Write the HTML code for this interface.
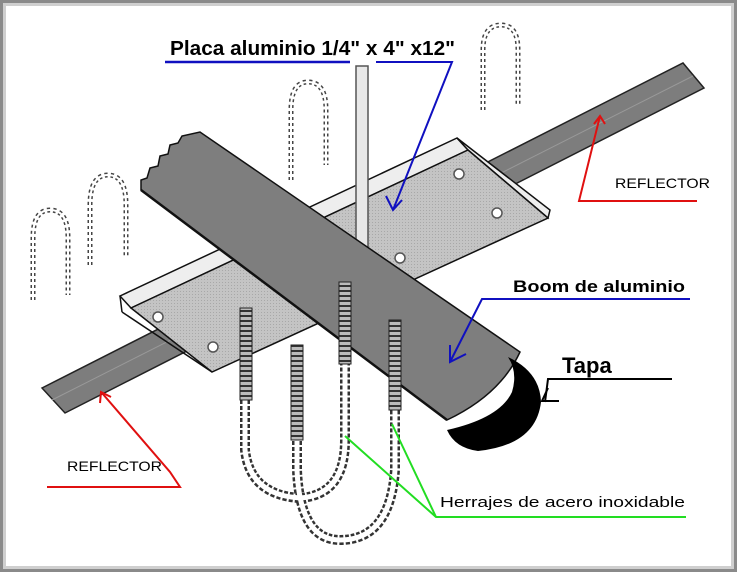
<!DOCTYPE html>
<html><head><style>
html,body{margin:0;padding:0;background:#fff}
svg{display:block}
text{font-family:"Liberation Sans",sans-serif}
</style></head><body>
<svg width="737" height="572" viewBox="0 0 737 572" xmlns="http://www.w3.org/2000/svg">
<rect x="0" y="0" width="737" height="572" fill="#8a8a8a"/>
<rect x="3" y="3" width="731" height="566" fill="#cfcfcf"/>
<rect x="6" y="6" width="725" height="560" fill="#fff"/>
<defs>
<pattern id="dots" width="3" height="3" patternUnits="userSpaceOnUse"><rect width="3" height="3" fill="#c4c4c4"/><rect width="1" height="1" fill="#a8a8a8"/></pattern>
<pattern id="thr" width="8" height="5" patternUnits="userSpaceOnUse"><rect width="8" height="5" fill="#bbb"/><rect width="8" height="2" fill="#333"/></pattern>
</defs>
<!-- reflector bar -->
<polygon points="42,388 683,63 704,88 65,413" fill="#7d7d7d" stroke="#222" stroke-width="1.5"/>
<line x1="52" y1="400" x2="693" y2="76" stroke="#999" stroke-width="1"/>
<!-- plate -->
<polygon points="120,296 457,138 468,150 131,308" fill="#eee" stroke="#111" stroke-width="1.5"/>
<polygon points="457,138 550,210 548,218 468,150" fill="#eee" stroke="#111" stroke-width="1.5"/>
<polygon points="131,308 468,150 548,218 212,372" fill="url(#dots)" stroke="#111" stroke-width="1.5"/>
<line x1="120" y1="296" x2="122" y2="312" stroke="#111" stroke-width="1.5"/>
<line x1="122" y1="312" x2="212" y2="372" stroke="#111" stroke-width="1.5"/>
<g fill="#fff" stroke="#555" stroke-width="1.5">
<circle cx="459" cy="174" r="5"/><circle cx="362" cy="222" r="5"/><circle cx="497" cy="213" r="5"/><circle cx="400" cy="258" r="5"/><circle cx="158" cy="317" r="5"/><circle cx="213" cy="347" r="5"/>
</g>
<!-- top vertical bolt -->
<rect x="356" y="66" width="12" height="190" fill="#e8e8e8" stroke="#555" stroke-width="1.5"/>
<!-- boom -->
<path d="M141,190 L141,180 L147,178 L150,168 L158,166 L160,156 L168,154 L170,145 L178,143 L182,136 L200,132 L520,352 Q500,395 447,420 Z" fill="#7e7e7e" stroke="#111" stroke-width="1.5"/>
<path d="M141,190 L447,420" fill="none" stroke="#111" stroke-width="2.5"/>
<!-- tapa -->
<path d="M508,357 Q540,372 541,402 Q536,445 478,451 Q455,448 447,430 Q500,418 512,392 Q518,372 508,357 Z" fill="#000"/>
<!-- small U-bolts -->
<g fill="none" stroke="#444" stroke-width="5" stroke-dasharray="3 3">
<path d="M33,300 V238 Q33,210 50,210 Q68,210 68,238 V295"/>
<path d="M90,265 V205 Q90,175 108,175 Q126,175 126,205 V258"/>
<path d="M291,180 V110 Q291,82 308,82 Q326,82 326,110 V165"/>
<path d="M483,110 V50 Q483,25 501,25 Q518,25 518,50 V105"/>
</g>
<g fill="none" stroke="#fff" stroke-width="2">
<path d="M33,300 V238 Q33,210 50,210 Q68,210 68,238 V295"/>
<path d="M90,265 V205 Q90,175 108,175 Q126,175 126,205 V258"/>
<path d="M291,180 V110 Q291,82 308,82 Q326,82 326,110 V165"/>
<path d="M483,110 V50 Q483,25 501,25 Q518,25 518,50 V105"/>
</g>
<!-- large U-bolts -->
<g fill="none" stroke="#333" stroke-width="10" stroke-dasharray="4 2">
<path d="M245,310 V450 Q250,495 300,498 Q345,495 345,440 V285"/>
<path d="M297,345 V470 Q300,540 340,540 Q390,540 395,470 V320"/>
</g>
<g fill="none" stroke="#fff" stroke-width="5">
<path d="M245,310 V450 Q250,495 300,498 Q345,495 345,440 V285"/>
<path d="M297,345 V470 Q300,540 340,540 Q390,540 395,470 V320"/>
</g>
<rect x="240" y="308" width="12" height="92" fill="url(#thr)" stroke="#222"/>
<rect x="339" y="282" width="12" height="82" fill="url(#thr)" stroke="#222"/>
<rect x="291" y="345" width="12" height="95" fill="url(#thr)" stroke="#222"/>
<rect x="389" y="320" width="12" height="90" fill="url(#thr)" stroke="#222"/>
<!-- labels -->
<text x="170" y="55" font-size="20" font-weight="bold" textLength="285" lengthAdjust="spacingAndGlyphs">Placa aluminio 1/4" x 4" x12"</text>
<polyline points="165,62 350,62" stroke="#1010c0" stroke-width="2.5" fill="none"/>
<polyline points="376,62 452,62 393,210" stroke="#1010c0" stroke-width="2" fill="none"/>
<polyline points="386,196 393,210 402,200" stroke="#1010c0" stroke-width="2" fill="none"/>
<text x="615" y="188" font-size="14" textLength="95" lengthAdjust="spacingAndGlyphs">REFLECTOR</text>
<polyline points="697,201 579,201 600,116" stroke="#e01010" stroke-width="2" fill="none"/>
<polyline points="594,124 600,116 605,124" stroke="#e01010" stroke-width="2" fill="none"/>
<text x="513" y="292" font-size="17" font-weight="bold" textLength="172" lengthAdjust="spacingAndGlyphs">Boom de aluminio</text>
<polyline points="690,299 482,299 450,362" stroke="#1010c0" stroke-width="2" fill="none"/>
<polyline points="450,345 450,362 466,354" stroke="#1010c0" stroke-width="2" fill="none"/>
<text x="562" y="373" font-size="22" font-weight="bold">Tapa</text>
<polyline points="672,379 548,379 545,402" stroke="#000" stroke-width="2" fill="none"/>
<polyline points="548,388 542,401 559,401" stroke="#000" stroke-width="2" fill="none"/>
<text x="67" y="471" font-size="14" textLength="95" lengthAdjust="spacingAndGlyphs">REFLECTOR</text>
<polyline points="47,487 180,487 170,472 102,393" stroke="#e01010" stroke-width="2" fill="none"/>
<polyline points="100,403 101,392 111,397" stroke="#e01010" stroke-width="2" fill="none"/>
<text x="440" y="507" font-size="15" textLength="245" lengthAdjust="spacingAndGlyphs">Herrajes de acero inoxidable</text>
<polyline points="686,517 436,517 345,436" stroke="#22dd22" stroke-width="2" fill="none"/>
<polyline points="436,517 392,424" stroke="#22dd22" stroke-width="2" fill="none"/>
</svg>
</body></html>
